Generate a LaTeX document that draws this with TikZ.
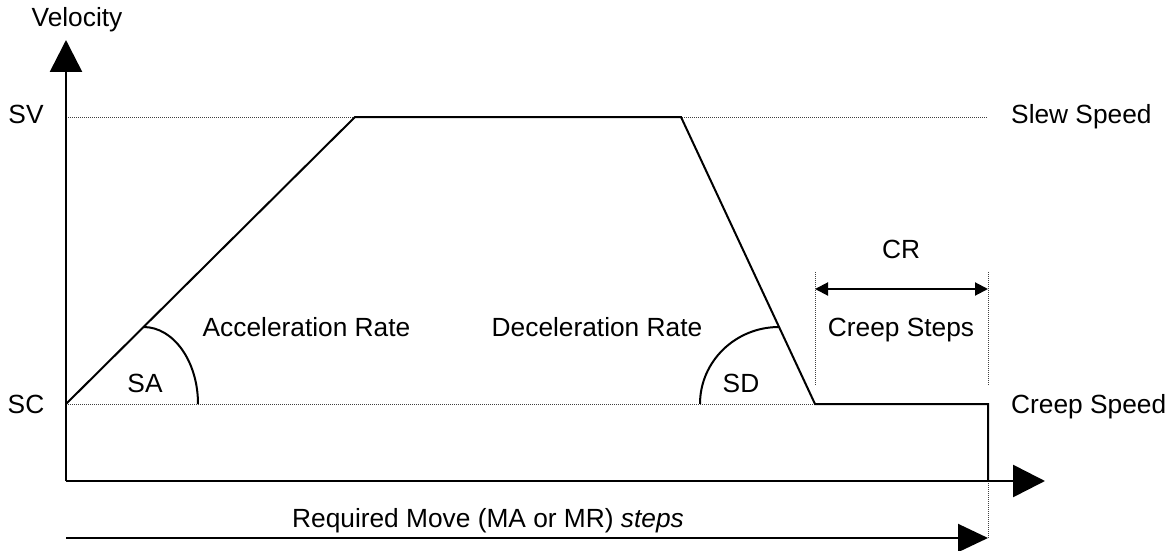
\documentclass[tikz,border=0pt]{standalone}
\usepackage{fontspec}
\setmainfont{Liberation Sans}
\usetikzlibrary{arrows.meta}
\begin{document}
\begin{tikzpicture}[x=1pt,y=-1pt,
  lbl/.style={inner sep=0pt,anchor=base,font=\fontsize{26.3}{30}\selectfont},
  axisline/.style={line width=2.6pt,-{Triangle[length=32pt,width=32pt]}},
  profile/.style={line width=2pt,line join=miter},
  guide/.style={line width=0.8pt,black!75,dash pattern=on 1pt off 1pt},
  dimarrow/.style={line width=2pt,{Triangle[length=13pt,width=13pt]}-{Triangle[length=13pt,width=13pt]}},
  movearrow/.style={line width=2pt,-{Triangle[length=30pt,width=28pt]}}]
\useasboundingbox (0,0) rectangle (1171,551);
% coordinates
\coordinate (O) at (66,481);
\coordinate (Ytip) at (66,40);
\coordinate (Xtip) at (1045,481);
\coordinate (SC0) at (66,404);
\coordinate (SV0) at (66,117);
\coordinate (SVend) at (987,117);
\coordinate (A) at (355,117);
\coordinate (B) at (681,117);
\coordinate (C) at (815,404);
\coordinate (D) at (988,404);
\coordinate (E) at (988,481);
\coordinate (F) at (988,538);
\coordinate (M0) at (66,538);
\coordinate (CRl1) at (815,272);
\coordinate (CRl2) at (815,385);
\coordinate (CRr1) at (988,272);
\coordinate (CRr2) at (988,385);
\coordinate (CRa) at (815,289);
\coordinate (CRb) at (988,289);
% guides
\draw[guide] (SV0) -- (SVend);
\draw[guide] (SC0) -- (C);
\draw[guide] (E) -- (F);
\draw[guide] (CRl1) -- (CRl2);
\draw[guide] (CRr1) -- (CRr2);
% axes
\draw[axisline] (O) -- (Ytip);
\draw[axisline] (O) -- (Xtip);
% profile
\draw[profile] (SC0) -- (A) -- (B) -- (C) -- (D) -- (E);
% arcs
\draw[line width=2pt] (143.5,327) arc[start angle=90,end angle=0,x radius=54.5pt,y radius=77pt];
\draw[line width=2pt] (700,404) arc[start angle=180,end angle=90,x radius=79pt,y radius=77pt];
% arrows
\draw[dimarrow] (CRa) -- (CRb);
\draw[movearrow] (M0) -- (F);
% labels
\node[lbl] (velocity) at (77,27) {Velocity};
\node[lbl] (sv) at (26,123) {SV};
\node[lbl] (sc) at (26,413) {SC};
\node[lbl,anchor=base west] (slew) at (1011,123) {Slew Speed};
\node[lbl,anchor=base west] (creep) at (1011,413) {Creep Speed};
\node[lbl] (cr) at (901,258) {CR};
\node[lbl] (creepsteps) at (901,336) {Creep Steps};
\node[lbl] (acc) at (306.5,336) {Acceleration Rate};
\node[lbl] (dec) at (597,336) {Deceleration Rate};
\node[lbl] (sa) at (145,392) {SA};
\node[lbl] (sd) at (741,392) {SD};
\node[lbl] (move) at (488,527) {Required Move (MA or MR) \textit{steps}};
\end{tikzpicture}
\end{document}
